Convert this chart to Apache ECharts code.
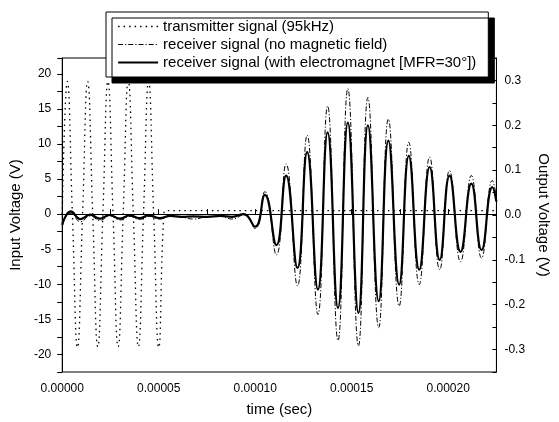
<!DOCTYPE html>
<html><head><meta charset="utf-8">
<script src="https://cdn.jsdelivr.net/npm/echarts@6/dist/echarts.min.js"></script>
<style>html,body{margin:0;padding:0;background:#fff}#c{width:559px;height:422px}</style>
</head><body><div id="c"></div>
<script>
const FONT = '"Liberation Sans", Arial, Helvetica, sans-serif';

const seriesNames = [
  'transmitter signal (95kHz)',
  'receiver signal (no magnetic field)',
  'receiver signal (with electromagnet [MFR=30\u00B0])'
];

// transmitter (left axis, V) — time in microseconds
const txTimeUs = [0, 2.63, 5.26, 7.89, 10.53, 13.16, 15.79, 18.42, 21.05, 23.68, 26.32, 28.95, 31.58, 34.21, 36.84, 39.47, 42.11, 44.74, 47.37, 50.0, 52.63, 54.0, 225];
const txVolts  = [0, 18.9, 0, -19.0, 0, 18.9, 0, -18.9, 0, 18.9, 0, -18.9, 0, 19.0, 0, -18.9, 0, 18.9, 0, -19.0, 0, 0.5, 0.5];

// receivers (right axis, V) — time in microseconds
const rxTimeUs = [0, 4.5, 9.5, 14.5, 19.5, 24.5, 30, 35, 40, 45, 50.5, 56, 62, 68, 75, 82, 88, 94,
  100, 105, 111, 116, 121.9, 126.9, 132.5, 137.5, 142.9, 148, 153.5, 158.4, 164, 169, 174.6, 179.6,
  185, 190.4, 195.6, 200.7, 206.4, 212, 217.3, 222.9, 225];
const rxNoField = [-0.018, 0.004, -0.015, -0.002, -0.012, -0.002, -0.011, -0.003, -0.010, -0.003, -0.009, -0.003, -0.005, -0.009, -0.004, -0.003, -0.009, 0.000,
  -0.030, 0.052, -0.089, 0.114, -0.158, 0.178, -0.222, 0.243, -0.280, 0.282, -0.292, 0.262, -0.251, 0.214, -0.203, 0.162,
  -0.155, 0.129, -0.122, 0.099, -0.104, 0.088, -0.096, 0.077, 0.040];
const rxMagnet = [-0.022, 0.008, -0.009, 0.001, -0.008, 0.000, -0.008, -0.001, -0.007, -0.001, -0.007, -0.002, -0.004, -0.003, -0.004, -0.002, -0.004, 0.002,
  -0.026, 0.045, -0.067, 0.088, -0.118, 0.140, -0.166, 0.184, -0.207, 0.206, -0.218, 0.200, -0.192, 0.166, -0.155, 0.132,
  -0.122, 0.107, -0.100, 0.088, -0.082, 0.070, -0.078, 0.062, 0.030];

const pairs = (ts, vs) => ts.map((t, i) => [t * 1e-6, vs[i]]);

const txStyle = { color: '#000', width: 1.3, type: [1.5, 4] };
const nfStyle = { color: '#000', width: 1, type: [5, 2, 1.2, 2] };
const mgStyle = { color: '#000', width: 2.2, type: 'solid' };
const noSymbol = { color: 'rgba(0,0,0,0)', borderColor: 'rgba(0,0,0,0)', borderWidth: 0 };

const chart = echarts.init(document.getElementById('c'), null, { renderer: 'canvas' });
chart.setOption({
  animation: false,
  backgroundColor: '#fff',
  color: ['#000', '#000', '#000'],
  textStyle: { fontFamily: FONT, color: '#000' },
  grid: { left: 57, right: 56, top: 58, bottom: 47, show: true, borderColor: '#000', borderWidth: 1, backgroundColor: 'transparent' },
  legend: {
    orient: 'vertical', left: 106, top: 12,
    itemWidth: 40, itemHeight: 14, itemGap: 3,
    padding: [7, 12, 7, 11],
    backgroundColor: '#fff', borderColor: '#000', borderWidth: 1,
    shadowColor: '#000', shadowBlur: 0, shadowOffsetX: 6, shadowOffsetY: 6,
    selectedMode: false, z: 10,
    textStyle: { fontSize: 15, color: '#000', fontFamily: FONT },
    data: [
      { name: seriesNames[0], lineStyle: txStyle, itemStyle: noSymbol },
      { name: seriesNames[1], lineStyle: nfStyle, itemStyle: noSymbol },
      { name: seriesNames[2], lineStyle: mgStyle, itemStyle: noSymbol }
    ]
  },
  xAxis: {
    type: 'value', min: 0, max: 0.000225, interval: 0.000025,
    name: 'time (sec)', nameLocation: 'middle', nameGap: 30,
    nameTextStyle: { fontSize: 15, color: '#000', fontFamily: FONT },
    axisLine: { show: true, lineStyle: { color: '#000', width: 1 } },
    axisTick: { show: true, inside: true, length: 5, lineStyle: { color: '#000' } },
    axisLabel: {
      fontSize: 12, color: '#000', margin: 11, fontFamily: FONT,
      formatter: v => (Math.round(v / 0.000025) % 2 === 0 && v < 0.00022) ? v.toFixed(5) : ''
    },
    splitLine: { show: false }
  },
  yAxis: [
    {
      type: 'value', position: 'left', min: -22.5, max: 22.25, interval: 2.5,
      name: 'Input Voltage (V)', nameLocation: 'middle', nameGap: 33,
      nameTextStyle: { fontSize: 15, color: '#000', fontFamily: FONT },
      axisLine: { show: true, lineStyle: { color: '#000', width: 1 } },
      axisTick: { show: true, inside: false, length: 5, lineStyle: { color: '#000' } },
      axisLabel: {
        fontSize: 12, color: '#000', margin: 11, fontFamily: FONT,
        formatter: v => (Math.round(v / 2.5) % 2 === 0 && Math.abs(v) <= 20.01) ? String(Math.round(v)) : ''
      },
      splitLine: { show: false }
    },
    {
      type: 'value', position: 'right', min: -0.35, max: 0.35, interval: 0.05,
      name: 'Output Voltage (V)', nameLocation: 'middle', nameGap: 33, nameRotate: -90,
      nameTextStyle: { fontSize: 15, color: '#000', fontFamily: FONT },
      axisLine: { show: true, lineStyle: { color: '#000', width: 1 } },
      axisTick: { show: true, inside: true, length: 4, lineStyle: { color: '#000' } },
      axisLabel: {
        fontSize: 12, color: '#000', margin: 8, fontFamily: FONT,
        formatter: v => (Math.round(v / 0.05) % 2 === 0 && Math.abs(v) < 0.34) ? (Math.abs(v) < 1e-9 ? '0.0' : v.toFixed(1)) : ''
      },
      splitLine: { show: false }
    }
  ],
  series: [
    { name: seriesNames[0], type: 'line', xAxisIndex: 0, yAxisIndex: 0, data: pairs(txTimeUs, txVolts),
      symbol: 'none', smooth: 0.5, lineStyle: txStyle, itemStyle: { color: '#000' }, z: 2 },
    { name: seriesNames[1], type: 'line', xAxisIndex: 0, yAxisIndex: 1, data: pairs(rxTimeUs, rxNoField),
      symbol: 'none', smooth: 0.5, lineStyle: nfStyle, itemStyle: { color: '#000' }, z: 3 },
    { name: seriesNames[2], type: 'line', xAxisIndex: 0, yAxisIndex: 1, data: pairs(rxTimeUs, rxMagnet),
      symbol: 'none', smooth: 0.5, lineStyle: mgStyle, itemStyle: { color: '#000' }, z: 4 }
  ]
});
</script>
</body></html>
